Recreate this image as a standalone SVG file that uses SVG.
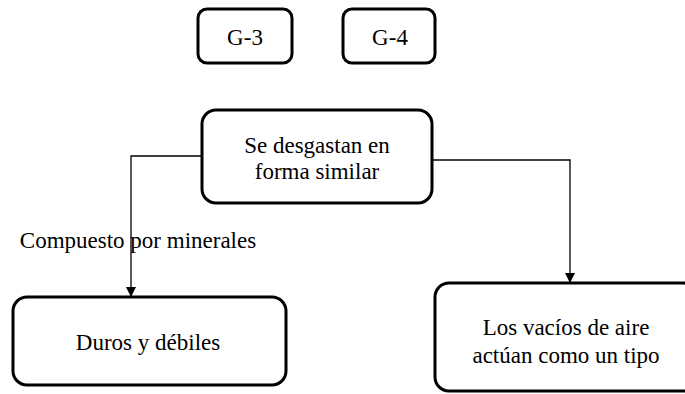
<svg xmlns="http://www.w3.org/2000/svg" width="685" height="394" viewBox="0 0 685 394">
<defs>
<style>
.box{fill:#fff;stroke:#000;stroke-width:3}
.t{font-family:'Liberation Serif','Times New Roman',serif;font-size:23px;fill:#000;text-anchor:middle}
.c{fill:none;stroke:#000;stroke-width:1.3}
</style>
<marker id="ah" viewBox="0 0 10 10" refX="10" refY="5" markerWidth="10" markerHeight="10" markerUnits="userSpaceOnUse" orient="auto">
<path d="M0,0 L10,5 L0,10 z" fill="#000"/>
</marker>
</defs>
<rect width="685" height="394" fill="#fff"/>
<g id="connectors">
<polyline class="c" points="202,156 131,156 131,297" marker-end="url(#ah)"/>
<polyline class="c" points="433,160 570,160 570,283" marker-end="url(#ah)"/>
</g>
<g id="g3"><rect class="box" x="198" y="9" width="94" height="54" rx="9"/><text class="t" x="245" y="45">G-3</text></g>
<g id="g4"><rect class="box" x="343" y="9" width="92" height="54" rx="9"/><text class="t" x="390" y="45">G-4</text></g>
<g id="main"><rect class="box" x="202" y="110" width="230" height="93" rx="14"/><text class="t" x="317" y="153">Se desgastan en</text><text class="t" x="317" y="179">forma similar</text></g>
<g id="label"><text class="t" x="138" y="248">Compuesto por minerales</text></g>
<g id="duros"><rect class="box" x="13" y="297" width="273" height="88" rx="14"/><text class="t" x="148" y="350">Duros y débiles</text></g>
<g id="vacios"><rect class="box" x="435" y="283" width="262" height="108" rx="14"/><text class="t" x="566" y="335">Los vacíos de aire</text><text class="t" x="566" y="363">actúan como un tipo</text></g>
</svg>
